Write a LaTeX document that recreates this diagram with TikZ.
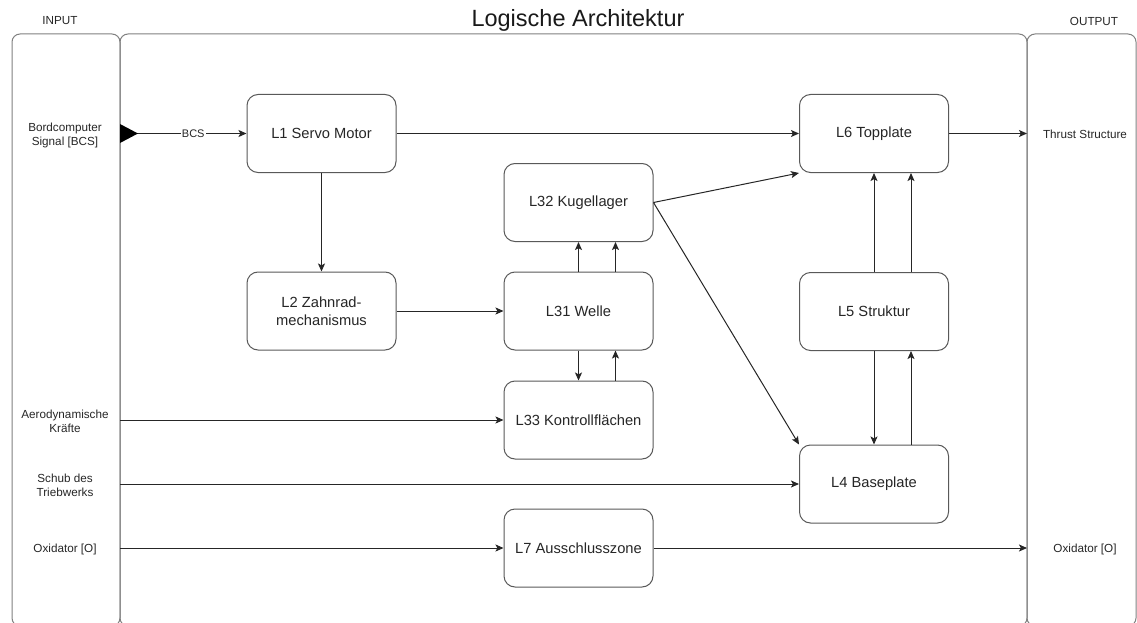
\documentclass[tikz,border=0pt]{standalone}
\usepackage{fontspec}
\setmainfont{Liberation Sans}
\usetikzlibrary{arrows.meta,calc}

\begin{document}
\begin{tikzpicture}[x=1pt,y=-1pt,
  panel/.style={draw=black!50, line width=1pt, rounded corners=8pt},
  block/.style={draw=black!65, line width=1pt, rounded corners=11pt, fill=white,
    minimum width=149pt, minimum height=78pt, inner sep=0pt, align=center,
    font=\fontsize{14.7}{17.5}\selectfont, text=black!85},
  side/.style={align=center, font=\fontsize{11.7}{14}\selectfont, text=black!85, inner sep=0pt},
  arr/.style={draw=black!85, line width=1pt, -{Stealth[length=8pt,width=7pt,inset=1.8pt]}},
]
\useasboundingbox (0,0) rectangle (1137,623);
\clip (0,0) rectangle (1137,623);

% swimlane panels: input, logical architecture, output
\draw[panel] (12,34) rectangle (120,626);
\draw[panel] (120,34) rectangle (1027,626);
\draw[panel] (1027,34) rectangle (1136,626);

% headers
\node[font=\fontsize{23.5}{28}\selectfont, text=black!90] (title) at (578,20) {Logische Architektur};
\node[side] (inhead) at (60,21) {INPUT};
\node[side] (outhead) at (1094,21) {OUTPUT};

% input and output labels
\node[side] (bcsin) at (65,135) {Bordcomputer\\Signal [BCS]};
\node[side] (aero) at (65,421) {Aerodynamische\\Kräfte};
\node[side] (schub) at (65,485) {Schub des\\Triebwerks};
\node[side] (oxin) at (65,549) {Oxidator [O]};
\node[side] (thrust) at (1085,134) {Thrust Structure};
\node[side] (oxout) at (1085,549) {Oxidator [O]};

% logical blocks
\node[block] (L1) at (321.5,133.5) {L1 Servo Motor};
\node[block] (L2) at (321.5,311) {L2 Zahnrad-\\mechanismus};
\node[block] (L32) at (578.5,202.5) {L32 Kugellager};
\node[block] (L31) at (578.5,311) {L31 Welle};
\node[block] (L33) at (578.5,420) {L33 Kontrollflächen};
\node[block] (L7) at (578.5,548) {L7 Ausschlusszone};
\node[block] (L6) at (874,133.5) {L6 Topplate};
\node[block] (L5) at (874,311.5) {L5 Struktur};
\node[block] (L4) at (874,484) {L4 Baseplate};

% connection points on the lane borders
\coordinate (inBCS) at (120,133.5);
\coordinate (inAero) at (120,420);
\coordinate (inSchub) at (120,484);
\coordinate (inOx) at (120,548);
\coordinate (outThrust) at (1027,133.5);
\coordinate (outOx) at (1027,548);

% signal from the board computer
\draw[arr] (inBCS) -- node[pos=0.579, fill=white, inner sep=1pt,
  font=\fontsize{11}{13}\selectfont, text=black!85] (bcslabel) {BCS} (L1.west);
\fill[black] (inBCS) ++(0,-9.5) -- ++(18,9.5) -- ++(-18,9.5) -- cycle;

% external inputs
\draw[arr] (inAero) -- (L33.west);
\draw[arr] (inSchub) -- (L4.west);
\draw[arr] (inOx) -- (L7.west);

% internal flows
\draw[arr] (L1.east) -- (L6.west);
\draw[arr] (L1.south) -- (L2.north);
\draw[arr] (L2.east) -- (L31.west);
\draw[arr] (L31.north) -- (L32.south);
\draw[arr] ($(L31.north)+(37,0)$) -- ($(L32.south)+(37,0)$);
\draw[arr] (L31.south) -- (L33.north);
\draw[arr] ($(L33.north)+(37,0)$) -- ($(L31.south)+(37,0)$);
\draw[arr] (L32.east) -- (L6.south west);
\draw[arr] (L32.east) -- (L4.north west);
\draw[arr] (L5.north) -- (L6.south);
\draw[arr] ($(L5.north)+(37,0)$) -- ($(L6.south)+(37,0)$);
\draw[arr] (L5.south) -- (L4.north);
\draw[arr] ($(L4.north)+(37,0)$) -- ($(L5.south)+(37,0)$);

% outputs
\draw[arr] (L6.east) -- (outThrust);
\draw[arr] (L7.east) -- (outOx);
\end{tikzpicture}
\end{document}
